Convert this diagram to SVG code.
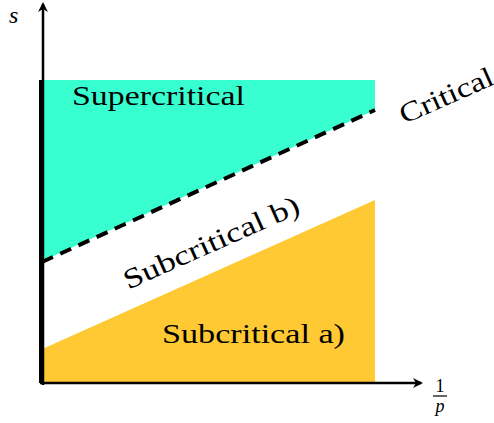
<svg xmlns="http://www.w3.org/2000/svg" width="494" height="423" viewBox="0 0 494 423">
<defs>
<marker id="arr" markerWidth="10" markerHeight="10" refX="8" refY="5" orient="auto" markerUnits="userSpaceOnUse">
<path d="M0,0 L10,5 L0,10 L3,5 Z" fill="#000"/>
</marker>
<style>
text{font-family:"Liberation Serif","Times New Roman",serif;fill:#000}
.lbl{font-size:28px}
.axis{stroke:#000;stroke-width:2.5;fill:none}
</style>
</defs>
<rect width="494" height="423" fill="#fff"/>
<g id="supercritical">
<polygon points="40,80 375,80 375,110 40,262" fill="#38ffd0"/>
<text class="lbl" x="72" y="105" textLength="173" lengthAdjust="spacingAndGlyphs">Supercritical</text>
</g>
<g id="subcritical-a">
<polygon points="40,350 375,200 375,383 40,383" fill="#ffc933"/>
<text class="lbl" x="162" y="343" textLength="183" lengthAdjust="spacingAndGlyphs">Subcritical a)</text>
</g>
<g id="subcritical-b">
<text class="lbl" x="215" y="251" text-anchor="middle" textLength="190" lengthAdjust="spacingAndGlyphs" transform="rotate(-24 215 251)">Subcritical b)</text>
</g>
<g id="critical">
<text class="lbl" x="450" y="104" text-anchor="middle" textLength="100" lengthAdjust="spacingAndGlyphs" transform="rotate(-24 450 104)">Critical</text>
</g>
<g id="connectors">
<line x1="41" y1="80" x2="41" y2="383" stroke="#000" stroke-width="4"/>
<line x1="42" y1="262" x2="375" y2="110" stroke="#000" stroke-width="4" stroke-dasharray="12,8"/>
<line class="axis" x1="43" y1="385" x2="43" y2="4" marker-end="url(#arr)"/>
<line class="axis" x1="40" y1="383" x2="421" y2="383" marker-end="url(#arr)"/>
</g>
<g id="axis-labels">
<text x="9" y="23" font-size="24" font-style="italic">s</text>
<text x="440" y="392" font-size="18" text-anchor="middle">1</text>
<line x1="433" y1="396" x2="447" y2="396" stroke="#000" stroke-width="1.2"/>
<text x="440" y="412" font-size="18" font-style="italic" text-anchor="middle">p</text>
</g>
</svg>
